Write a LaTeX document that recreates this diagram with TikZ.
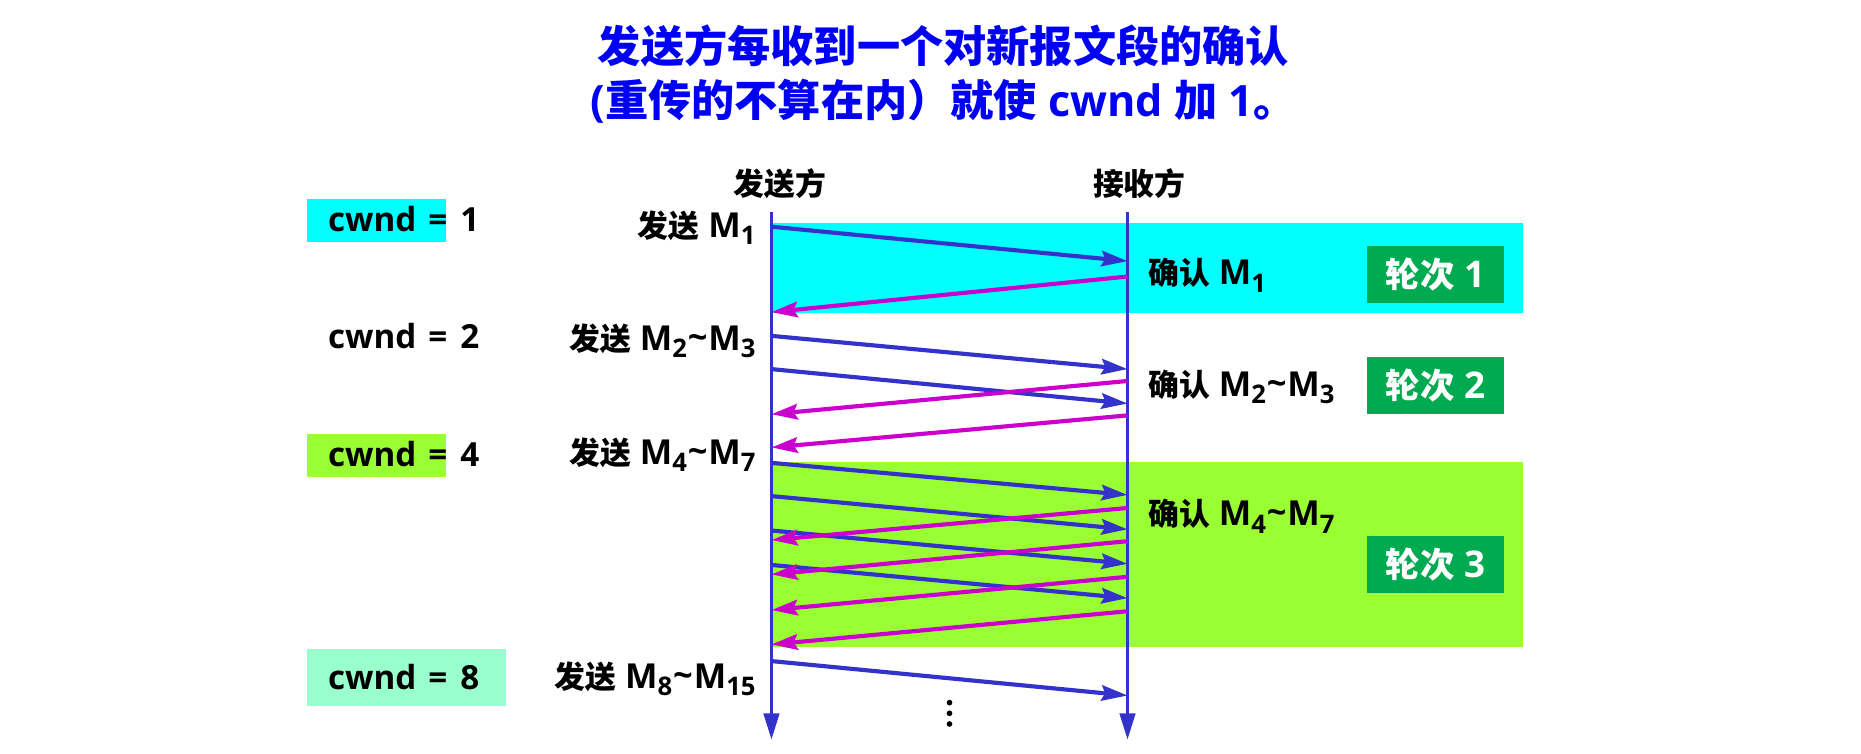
\documentclass[tikz,border=0pt]{standalone}
\usepackage{fontspec}
\setmainfont{Open Sans}
\newfontfamily\cjk{Noto Sans CJK SC}
\usetikzlibrary{arrows.meta}
\definecolor{cyanbg}{RGB}{0,255,255}
\definecolor{limebg}{RGB}{153,255,51}
\definecolor{mintbg}{RGB}{153,255,204}
\definecolor{roundbg}{RGB}{0,170,80}
\definecolor{datac}{RGB}{51,51,204}
\definecolor{ackc}{RGB}{204,0,204}
\definecolor{titlec}{RGB}{0,0,245}
\newcommand\zh[1]{{\cjk #1}}
\newcommand\zb[1]{{\cjk\fontsize{13pt}{15pt}\selectfont #1}}
\newcommand\zr[1]{{\cjk\fontsize{14.5pt}{16pt}\selectfont #1}}
\newcommand\subs[1]{\raisebox{-0.4ex}{\fontsize{10.8pt}{11pt}\selectfont #1}}
\newcommand\tl{\kern0.4pt\raisebox{0.05ex}{\textasciitilde}\kern0.4pt}
\newcommand\cw[1]{cwnd\hspace{5pt}=\hspace{5.5pt}#1}
\begin{document}
\begin{tikzpicture}[x=0.5pt,y=-0.5pt,
  every node/.style={font=\fontsize{14.5pt}{16pt}\selectfont\bfseries, inner sep=0pt},
  titletext/.style={font=\fontsize{18.2pt}{22pt}\selectfont\bfseries, text=titlec},
  life/.style={datac, line width=1.1pt, -{Triangle[length=11pt,width=6.6pt]}},
  datamsg/.style={datac, line width=1.75pt, -{Stealth[length=11pt,width=6.5pt,inset=1.6pt]}},
  ackmsg/.style={ackc, line width=1.75pt, -{Stealth[length=11pt,width=6.5pt,inset=1.6pt]}},
  roundbox/.style={fill=roundbg, text=white, minimum width=57.5pt, minimum height=24pt,
    font=\fontsize{15.5pt}{17pt}\selectfont\bfseries},
  sendlbl/.style={anchor=base east},
  acklbl/.style={anchor=base west},
  cwndlbl/.style={anchor=base west, font=\fontsize{14pt}{16pt}\selectfont\bfseries}
]
\useasboundingbox (0,0) rectangle (1568,635);
% title
\node[titletext] (t1) at (795,39) {\zh{发送方每收到一个对新报文段的确认}};
\node[titletext] (t2) at (795,85) {(\zh{重传的不算在内）就使} cwnd \zh{加} 1\zh{。}};
% background bands
\fill[cyanbg] (650,188) rectangle (1283,264);
\fill[limebg] (650,389) rectangle (1283,545);
% cwnd boxes
\fill[cyanbg] (259,168) rectangle (376,204);
\fill[limebg] (259,366) rectangle (376,402);
\fill[mintbg] (259,547) rectangle (426,595);
\node[cwndlbl] (c1) at (276,195) {\cw{1}};
\node[cwndlbl] (c2) at (276,294) {\cw{2}};
\node[cwndlbl] (c4) at (276,393) {\cw{4}};
\node[cwndlbl] (c8) at (276,581) {\cw{8}};
% headers
\node (hs) at (657,155) {\zb{发送方}};
\node (hr) at (960,155) {\zb{接收方}};
% lifelines
\coordinate (s0) at (650,179);
\coordinate (s1) at (650,623);
\coordinate (r0) at (950,179);
\coordinate (r1) at (950,623);
\draw[life] (s0) -- (s1);
\draw[life] (r0) -- (r1);
% send labels
\node[sendlbl] (l1) at (637,200) {\zb{发送} M\subs{1}};
\node[sendlbl] (l2) at (637,295) {\zb{发送} M\subs{2}\tl M\subs{3}};
\node[sendlbl] (l3) at (637,391) {\zb{发送} M\subs{4}\tl M\subs{7}};
\node[sendlbl] (l4) at (637,580) {\zb{发送} M\subs{8}\tl M\subs{15}};
% ack labels
\node[acklbl] (a1) at (967,240) {\zb{确认} M\subs{1}};
\node[acklbl] (a2) at (967,334) {\zb{确认} M\subs{2}\tl M\subs{3}};
\node[acklbl] (a3) at (967,443) {\zb{确认} M\subs{4}\tl M\subs{7}};
% round boxes
\node[roundbox] (r1b) at (1209.5,231.5) {\zr{轮次} 1};
\node[roundbox] (r2b) at (1209.5,324.5) {\zr{轮次} 2};
\node[roundbox] (r3b) at (1209.5,476) {\zr{轮次} 3};
% message endpoints
\coordinate (d1s) at (650,191); \coordinate (d1e) at (950,220);
\coordinate (k1s) at (950,233); \coordinate (k1e) at (650,263);
\coordinate (d2s) at (650,283); \coordinate (d2e) at (950,311);
\coordinate (d3s) at (650,311); \coordinate (d3e) at (950,340);
\coordinate (k2s) at (950,321); \coordinate (k2e) at (650,349);
\coordinate (k3s) at (950,350); \coordinate (k3e) at (650,377);
\coordinate (d4s) at (650,390); \coordinate (d4e) at (950,417);
\coordinate (d5s) at (650,418); \coordinate (d5e) at (950,446);
\coordinate (d6s) at (650,447); \coordinate (d6e) at (950,475);
\coordinate (d7s) at (650,476); \coordinate (d7e) at (950,504);
\coordinate (k4s) at (950,428); \coordinate (k4e) at (650,455);
\coordinate (k5s) at (950,456); \coordinate (k5e) at (650,484);
\coordinate (k6s) at (950,486); \coordinate (k6e) at (650,514);
\coordinate (k7s) at (950,515); \coordinate (k7e) at (650,543);
\coordinate (d8s) at (650,557); \coordinate (d8e) at (950,586);
\foreach \i in {1,...,8} \draw[datamsg] (d\i s) -- (d\i e);
\foreach \i in {1,...,7} \draw[ackmsg] (k\i s) -- (k\i e);
% dots
\foreach \y in {592,601,610} \fill (800,\y) circle (2.4);
\end{tikzpicture}
\end{document}
